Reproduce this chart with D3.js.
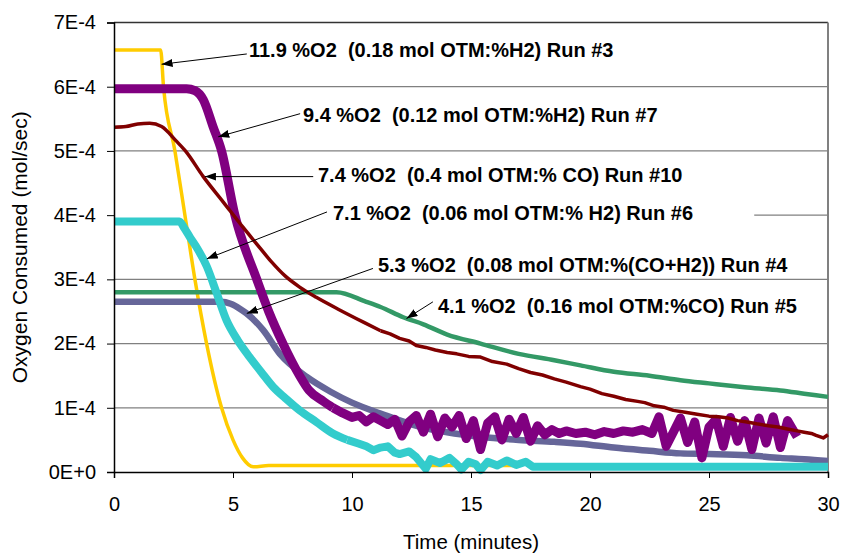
<!DOCTYPE html>
<html>
<head>
<meta charset="utf-8">
<script src="https://cdn.jsdelivr.net/npm/d3@7"></script>
<style>
  body { margin: 0; background: #fff; }
  text { font-family: "Liberation Sans", Arial, sans-serif; }
</style>
</head>
<body>
<svg id="chart" width="841" height="554"></svg>
<script>
// time in minutes, O2 consumed in units of 1E-4 mol/sec
const run3 = [[0,6.57],[1.96,6.57],[2.08,6.0],[2.56,5.0],[2.98,4.0],[3.4,3.0],[3.89,2.0],[4.52,1.0],[5.0,0.5],[5.4,0.22],[5.85,0.08],[6.5,0.1],[17,0.1]];
const run4 = [[0,2.65],[4.5,2.65],[4.9,2.62],[5.3,2.54],[5.57,2.47],[6.27,2.21],[6.97,1.84],[8.1,1.48],[9.1,1.25],[10,1.08],[11.2,0.91],[12.9,0.7],[14,0.62],[15.4,0.55],[17,0.5],[18.5,0.47],[19.6,0.44],[21,0.38],[22.5,0.33],[23.8,0.29],[25,0.28],[26.6,0.26],[28,0.22],[29,0.2],[30,0.17]];
const run5 = [[0,2.8],[9.35,2.8],[10.6,2.65],[11.2,2.57],[12.15,2.41],[13,2.3],[14,2.14],[15.4,2.0],[17,1.84],[18.5,1.74],[19.6,1.66],[21,1.56],[22.5,1.5],[23.8,1.43],[25,1.38],[26.5,1.32],[28,1.27],[29,1.22],[30,1.17]];
const run6 = [[0,3.9],[2.75,3.9],[2.95,3.8],[3.2,3.65],[3.5,3.48],[3.9,3.2],[4.3,2.8],[4.73,2.36],[5.2,2.05],[5.7,1.79],[6.2,1.55],[6.7,1.32],[7.2,1.15],[7.8,0.96],[8.5,0.78],[9.2,0.6],[9.8,0.5],[10.3,0.44],[10.6,0.4],[10.9,0.34],[11.2,0.38],[11.5,0.4],[11.8,0.3],[12,0.28],[12.4,0.32],[12.7,0.23],[13.1,0.05],[13.3,0.2],[13.7,0.14],[14.1,0.22],[14.4,0.12],[14.6,0.04],[14.9,0.16],[15.2,0.12],[15.4,0.03],[15.7,0.16],[16.1,0.1],[16.5,0.18],[16.9,0.11],[17.3,0.16],[17.6,0.08],[30,0.08]];
const run7 = [[0,5.97],[3.05,5.97],[3.4,5.94],[3.75,5.8],[4.17,5.37],[4.52,5.0],[5.08,4.0],[6.0,3.0],[6.5,2.5],[7.1,2.0],[7.8,1.5],[8.2,1.27],[8.8,1.1],[9.2,1.0],[9.6,0.92],[10.0,0.85],[10.3,0.88],[10.6,0.78],[10.9,0.86],[11.2,0.8],[11.5,0.74],[11.8,0.82],[12.1,0.56],[12.4,0.78],[12.7,0.88],[13.0,0.62],[13.3,0.9],[13.6,0.55],[13.9,0.84],[14.2,0.7],[14.5,0.88],[14.8,0.52],[15.1,0.8],[15.4,0.35],[15.7,0.76],[16.0,0.86],[16.3,0.5],[16.6,0.82],[16.9,0.6],[17.2,0.85],[17.5,0.48],[17.8,0.72],[18.1,0.58],[18.4,0.66],[18.7,0.6],[19.0,0.64],[19.4,0.6],[19.8,0.62],[20.2,0.58],[20.6,0.63],[21.0,0.6],[21.4,0.64],[21.8,0.62],[22.2,0.66],[22.6,0.6],[22.9,0.86],[23.2,0.4],[23.5,0.62],[23.8,0.84],[24.1,0.46],[24.4,0.78],[24.7,0.22],[25.0,0.7],[25.3,0.82],[25.6,0.4],[25.9,0.85],[26.2,0.48],[26.5,0.8],[26.8,0.35],[27.1,0.84],[27.4,0.45],[27.7,0.86],[28.0,0.38],[28.3,0.8],[28.7,0.55]];
const run10 = [[0,5.37],[0.5,5.38],[1,5.42],[1.5,5.43],[2,5.38],[2.6,5.16],[3.0,5.0],[3.75,4.6],[4.6,4.2],[5.4,3.82],[6,3.55],[6.6,3.28],[7.2,3.05],[7.8,2.88],[8.5,2.72],[9.5,2.52],[10.5,2.33],[11.2,2.2],[11.6,2.15],[12,2.08],[12.4,2.04],[12.7,1.97],[13.1,1.94],[13.5,1.9],[14.0,1.86],[14.4,1.84],[14.9,1.8],[15.4,1.79],[15.9,1.72],[16.5,1.68],[17,1.61],[17.5,1.55],[18,1.51],[18.5,1.45],[19,1.4],[19.6,1.33],[20,1.29],[20.5,1.22],[21,1.18],[21.5,1.13],[22,1.1],[22.3,1.08],[22.7,1.03],[23.1,1.01],[23.5,0.96],[24,0.93],[24.5,0.9],[25,0.87],[25.4,0.86],[25.8,0.84],[26.2,0.8],[26.6,0.78],[27.0,0.75],[27.5,0.72],[27.9,0.7],[28.3,0.67],[28.7,0.64],[29,0.62],[29.3,0.6],[29.5,0.57],[29.8,0.53],[30,0.58]];

const xTicks = [0, 5, 10, 15, 20, 25, 30];
const yTicks = [0, 1, 2, 3, 4, 5, 6, 7];

// noisyFrom: time after which the trace is drawn point to point
const series = [
  { data: run3, color: "#FFCC00", width: 3.5, noisyFrom: 99 },
  { data: run4, color: "#666699", width: 6.5, noisyFrom: 99 },
  { data: run5, color: "#339966", width: 4.5, noisyFrom: 99 },
  { data: run6, color: "#33CCCC", width: 8, noisyFrom: 9.8 },
  { data: run7, color: "#800080", width: 9, noisyFrom: 9.2 },
  { data: run10, color: "#800000", width: 3.5, noisyFrom: 11.2 }
];

// label text, text start [t, v], arrow start [t, v], arrow tip [t, v]
const notes = [
  ["11.9 %O2  (0.18 mol OTM:%H2) Run #3", [5.67, 6.47], [5.58, 6.51], [2.0, 6.35]],
  ["9.4 %O2  (0.12 mol OTM:%H2) Run #7", [7.94, 5.45], [7.82, 5.58], [4.38, 5.22]],
  ["7.4 %O2  (0.4 mol OTM:% CO) Run #10", [8.57, 4.52], [8.37, 4.6], [3.82, 4.6]],
  ["7.1 %O2  (0.06 mol OTM:% H2) Run #6", [9.2, 3.92], [8.95, 4.05], [3.9, 3.32]],
  ["5.3 %O2  (0.08 mol OTM:%(CO+H2)) Run #4", [11.09, 3.11], [10.88, 3.17], [5.58, 2.47]],
  ["4.1 %O2  (0.16 mol OTM:%CO) Run #5", [13.61, 2.47], [13.4, 2.65], [12.29, 2.39]]
];

const svg = d3.select("#chart");
const x = d3.scaleLinear().domain([0, 30]).range([114, 828]);
const y = d3.scaleLinear().domain([0, 7]).range([472, 22.5]);

svg.append("defs").append("marker")
  .attr("id", "head")
  .attr("markerUnits", "userSpaceOnUse")
  .attr("markerWidth", 12).attr("markerHeight", 8)
  .attr("refX", 11).attr("refY", 4)
  .attr("orient", "auto")
  .append("path").attr("d", "M0,0 L11,4 L0,8 Z").attr("fill", "#000");

// gridlines
svg.append("g").selectAll("line")
  .data(yTicks.filter(d => d > 0 && d < 7))
  .enter().append("line")
  .attr("x1", x(0)).attr("x2", x(30))
  .attr("y1", d => y(d)).attr("y2", d => y(d))
  .attr("stroke", "#808080").attr("stroke-width", 1.3);

// plot frame top and right
svg.append("line").attr("x1", x(0)).attr("x2", x(30)).attr("y1", y(7)).attr("y2", y(7))
  .attr("stroke", "#333").attr("stroke-width", 1.3);
svg.append("line").attr("x1", x(30)).attr("x2", x(30)).attr("y1", y(7)).attr("y2", y(0))
  .attr("stroke", "#808080").attr("stroke-width", 2);

// white text box of the Run #6 label hides the gridline behind it
svg.append("rect")
  .attr("x", x(0) + 1).attr("width", x(26.9) - x(0) - 1)
  .attr("y", y(3.92) - 15).attr("height", 17)
  .attr("fill", "#fff");

const smooth = d3.line().x(d => x(d[0])).y(d => y(d[1])).curve(d3.curveMonotoneX);
const jagged = d3.line().x(d => x(d[0])).y(d => y(d[1]));

const lines = svg.append("g");
series.forEach(s => {
  const head = s.data.filter(d => d[0] <= s.noisyFrom);
  const tail = s.data.filter(d => d[0] >= s.noisyFrom);
  [[head, smooth], [tail, jagged]].forEach(([pts, gen]) => {
    if (pts.length < 2) return;
    lines.append("path")
      .attr("d", gen(pts))
      .attr("fill", "none")
      .attr("stroke", s.color)
      .attr("stroke-width", s.width)
      .attr("stroke-linejoin", "round");
  });
});

// axes
const yAxis = svg.append("g")
  .attr("transform", `translate(${x(0)},0)`)
  .call(d3.axisLeft(y).tickValues(yTicks).tickSize(7).tickPadding(11)
    .tickFormat(d => d === 0 ? "0E+0" : d + "E-4"));
const xAxis = svg.append("g")
  .attr("transform", `translate(0,${y(0)})`)
  .call(d3.axisBottom(x).tickValues(xTicks).tickSize(6).tickPadding(19));

[yAxis, xAxis].forEach(g => {
  g.select(".domain").attr("stroke", "#000").attr("stroke-width", 1.5);
  g.selectAll(".tick line").attr("stroke", "#000");
  g.selectAll(".tick text").attr("font-size", 20).attr("fill", "#000")
    .attr("font-family", "Liberation Sans, Arial, sans-serif");
});

svg.append("text")
  .attr("transform", `translate(20,${(y(0) + y(7)) / 2}) rotate(-90)`)
  .attr("dy", "0.35em")
  .attr("text-anchor", "middle")
  .attr("font-size", 21)
  .text("Oxygen Consumed (mol/sec)");

svg.append("text")
  .attr("x", (x(0) + x(30)) / 2).attr("y", 549)
  .attr("text-anchor", "middle")
  .attr("font-size", 20.5)
  .text("Time (minutes)");

// annotations
const notesG = svg.append("g");
notes.forEach(([label, txt, from, tip]) => {
  notesG.append("line")
    .attr("x1", x(from[0])).attr("y1", y(from[1]))
    .attr("x2", x(tip[0])).attr("y2", y(tip[1]))
    .attr("stroke", "#000").attr("stroke-width", 1)
    .attr("marker-end", "url(#head)");
  notesG.append("text")
    .attr("x", x(txt[0])).attr("y", y(txt[1]))
    .attr("font-size", 20).attr("font-weight", "bold")
    .style("white-space", "pre")
    .text(label);
});
</script>
</body>
</html>
